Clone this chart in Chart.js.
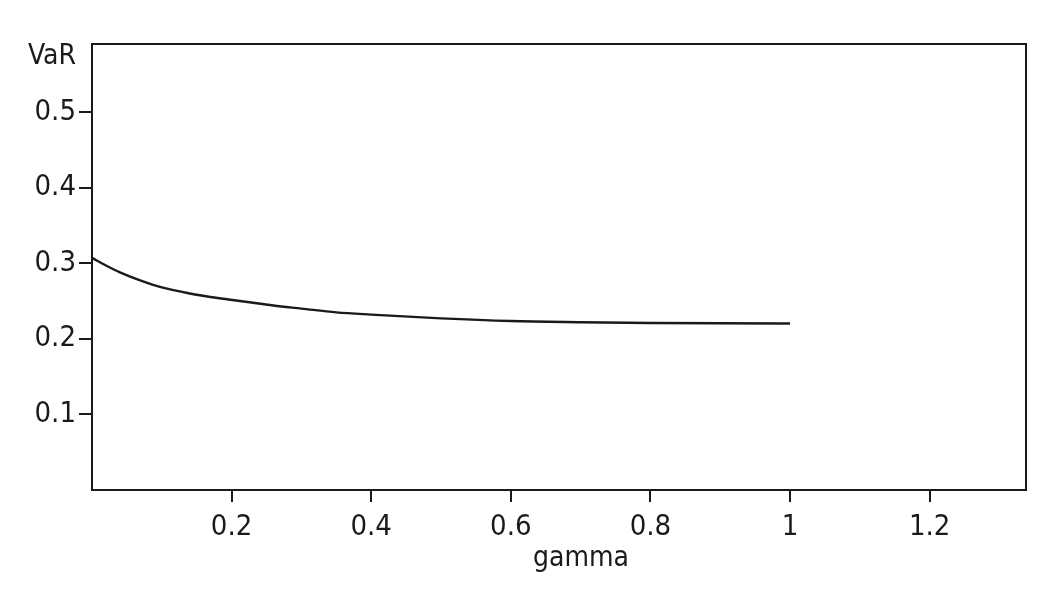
<!DOCTYPE html>
<html>
<head>
<meta charset="utf-8">
<script src="https://cdn.jsdelivr.net/npm/chart.js@4/dist/chart.umd.min.js"></script>
<style>
  html, body { margin: 0; padding: 0; background: #fff; }
  #wrap { width: 1045px; height: 591px; }
</style>
</head>
<body>
<div id="wrap"><canvas id="mycanvas"></canvas></div>
<script>
// values
var gamma = [0, 0.02, 0.04, 0.07, 0.1, 0.14, 0.18, 0.22, 0.26, 0.3, 0.35, 0.4, 0.5, 0.6, 0.7, 0.8, 0.9, 1.0];
var varValues = [0.307, 0.297, 0.288, 0.277, 0.268, 0.260, 0.254, 0.249, 0.244, 0.240, 0.235, 0.232, 0.227, 0.2235, 0.222, 0.221, 0.2205, 0.2203];
var xTicks = [0.2, 0.4, 0.6, 0.8, 1, 1.2];
var yTicks = [0.1, 0.2, 0.3, 0.4, 0.5];

var fontFam = '"Liberation Sans Narrow", "DejaVu Sans Condensed", "Liberation Sans", sans-serif';

var points = [];
for (var i in gamma) {
    points.push({ x: gamma[i], y: varValues[i] });
}

// frame + axis titles
var framePlugin = {
    id: 'frame',
    afterDraw: function (chart) {
        var c = chart.ctx;
        var a = chart.chartArea;
        c.save();
        c.strokeStyle = '#1a1a1a';
        c.lineWidth = 2;
        c.strokeRect(a.left, a.top, a.right - a.left, a.bottom - a.top);
        c.fillStyle = '#1a1a1a';
        c.font = '28px ' + fontFam;
        c.textAlign = 'right';
        c.textBaseline = 'alphabetic';
        c.fillText('VaR', a.left - 16, a.top + 20);
        c.textAlign = 'center';
        c.fillText('gamma', a.left + 489, a.bottom + 76);
        c.restore();
    }
};

var ctx = document.getElementById('mycanvas');
var chart = new Chart(ctx, {
    type: 'line',
    data: {
        datasets: [{
            label: 'VaR',
            data: points,
            borderColor: '#1a1a1a',
            borderWidth: 2.4,
            pointRadius: 0,
            fill: false,
            cubicInterpolationMode: 'monotone'
        }]
    },
    options: {
        responsive: true,
        maintainAspectRatio: false,
        animation: false,
        layout: { padding: { top: 44, right: 19, left: 0, bottom: 0 } },
        plugins: { legend: { display: false }, tooltip: { enabled: false } },
        scales: {
            x: {
                type: 'linear',
                min: 0,
                max: 1.338,
                afterBuildTicks: function (s) { s.ticks = xTicks.map(function (v) { return { value: v }; }); },
                afterFit: function (s) { s.height = 101; },
                border: { display: false },
                grid: { drawOnChartArea: false, drawTicks: true, tickLength: 12, color: '#1a1a1a', lineWidth: 2 },
                ticks: {
                    color: '#1a1a1a',
                    font: { family: fontFam, size: 29 },
                    padding: 8,
                    maxRotation: 0,
                    callback: function (v) { return String(v); }
                }
            },
            y: {
                type: 'linear',
                min: 0,
                max: 0.59,
                afterBuildTicks: function (s) { s.ticks = yTicks.map(function (v) { return { value: v }; }); },
                afterFit: function (s) { s.width = 92; },
                border: { display: false },
                grid: { drawOnChartArea: false, drawTicks: true, tickLength: 13, color: '#1a1a1a', lineWidth: 2 },
                ticks: {
                    color: '#1a1a1a',
                    font: { family: fontFam, size: 29 },
                    padding: 3,
                    callback: function (v) { return String(v); }
                }
            }
        }
    },
    plugins: [framePlugin]
});
</script>
</body>
</html>
